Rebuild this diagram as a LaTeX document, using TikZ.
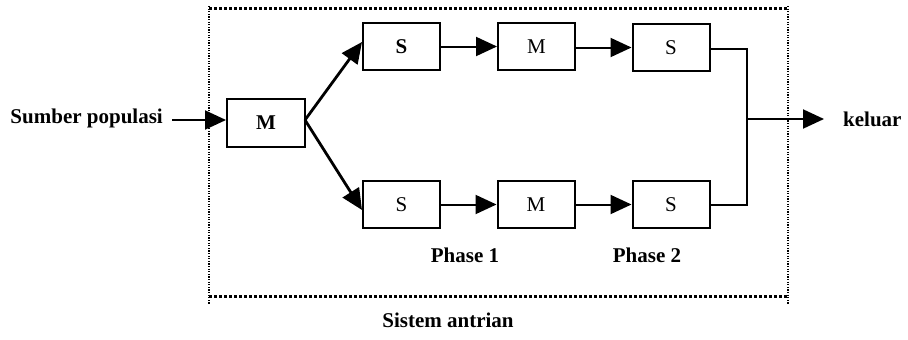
\documentclass[tikz,border=0pt]{standalone}
\usepackage{fontspec}
\setmainfont{Liberation Serif}
\usetikzlibrary{arrows.meta}
\begin{document}
\begin{tikzpicture}[x=1pt,y=-1pt,
  qbox/.style={draw,line width=2pt,minimum width=77pt,minimum height=47pt,inner sep=0pt,font=\fontsize{21}{23}\selectfont},
  lbl/.style={font=\fontsize{21}{23}\selectfont\bfseries,inner sep=0pt},
  conn/.style={line width=2pt,-{Triangle[length=21pt,width=19pt]}},
  plain/.style={line width=1.8pt},
  hdots/.style={line width=3pt,dash pattern=on 3pt off 2pt},
  vdots/.style={line width=1.2pt,dash pattern=on 1.2pt off 1.4pt}]
\useasboundingbox (0,0) rectangle (908,340);
% system boundary
\coordinate (tl) at (209,8);
\coordinate (tr) at (788,8);
\coordinate (bl) at (209,296);
\coordinate (br) at (788,296);
\draw[hdots] (tl) -- (tr);
\draw[hdots] (bl) -- (br);
\draw[vdots] (209,6) -- (209,304);
\draw[vdots] (788,6) -- (788,304);
% nodes
\node[qbox,font=\fontsize{21}{23}\selectfont\bfseries,minimum width=78pt,minimum height=48pt] (m0) at (266,123) {M};
\node[qbox,font=\fontsize{21}{23}\selectfont\bfseries] (s1) at (401.5,46.5) {S};
\node[qbox] (m1) at (536.5,46.5) {M};
\node[qbox] (s2) at (671,47.5) {S};
\node[qbox] (s3) at (401.5,204.5) {S};
\node[qbox] (m3) at (536,204.5) {M};
\node[qbox] (s4) at (671,204.5) {S};
\node[lbl,anchor=east] (src) at (163,118) {Sumber populasi};
\node[lbl,anchor=west] (out) at (843,119) {keluar};
\node[lbl] (ph1) at (465,255) {Phase 1};
\node[lbl] (ph2) at (647,255) {Phase 2};
\node[lbl] (sys) at (448,320) {Sistem antrian};
% connectors
\coordinate (srcend) at (172,120);
\draw[conn] (srcend) -- (m0.west |- srcend);
\coordinate (split) at (305,120);
\draw[conn,line width=2.8pt] (split) -- (s1.west |- 0,42);
\draw[conn,line width=2.8pt] (split) -- (s3.west |- 0,210);
\draw[conn] (s1) -- (m1);
\draw[conn] (m1.east |- s2) -- (s2);
\draw[conn] (s3) -- (m3);
\draw[conn] (m3) -- (s4);
\coordinate (jt) at (747,49);
\coordinate (jb) at (747,205);
\coordinate (jm) at (747,119);
\coordinate (outend) at (824,119);
\draw[plain] (s2.east |- jt) -- (jt) -- (jb) -- (s4.east |- jb);
\draw[conn] (jm) -- (outend);
\end{tikzpicture}
\end{document}
